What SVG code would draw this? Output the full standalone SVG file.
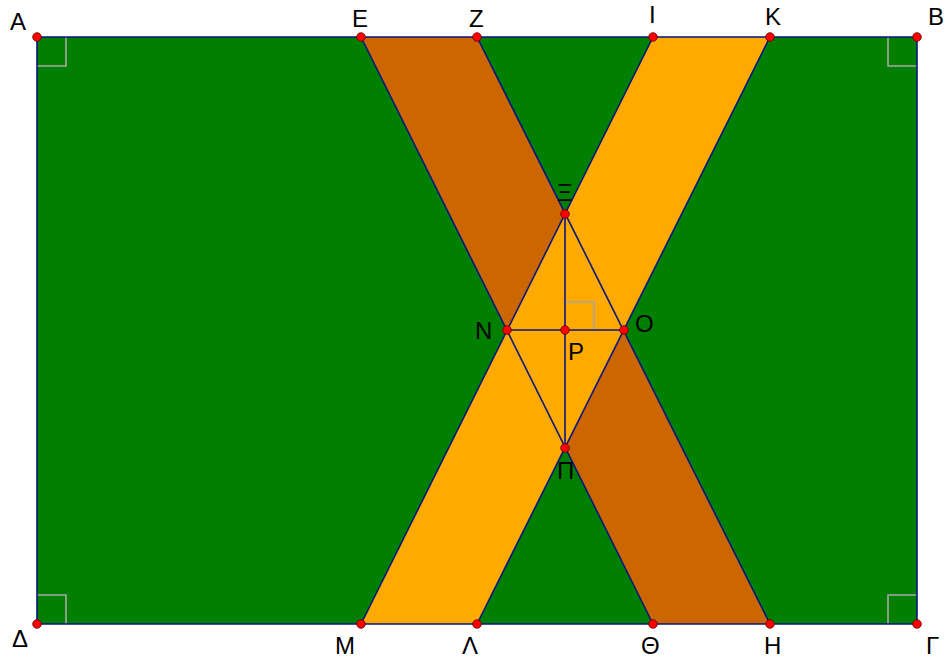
<svg xmlns="http://www.w3.org/2000/svg" width="947" height="658" viewBox="0 0 947 658">
<style>
.edge{stroke:#0a1580;stroke-width:1.6;fill:none;stroke-linejoin:round}
.ra{stroke:#a8a8a8;stroke-width:1.6;fill:none}
.pt{fill:#ff0000;stroke:#600000;stroke-width:0.8}
.lb{font-family:"Liberation Sans",Arial,sans-serif;font-size:24px;fill:#000}
</style>
<rect width="947" height="658" fill="#ffffff"/>
<g id="rect-ABGD">
<polygon points="37,37 917,37 917,624 37,624" fill="#007f00"/>
</g>
<g id="band-brown">
<polygon points="361,37 477,37 770,624 653,624" fill="#cc6600"/>
</g>
<g id="band-yellow">
<polygon points="653,37 770,37 477,624 361,624" fill="#ffaa00"/>
</g>
<g id="right-angles">
<polyline class="ra" points="37,66 66,66 66,37"/>
<polyline class="ra" points="917,66 888,66 888,37"/>
<polyline class="ra" points="37,595 66,595 66,624"/>
<polyline class="ra" points="917,595 888,595 888,624"/>
<polyline class="ra" points="565,302 594,302 594,330"/>
</g>
<g id="connectors">
<polygon class="edge" points="37,37 917,37 917,624 37,624"/>
<line class="edge" x1="361" y1="37" x2="653" y2="624"/>
<line class="edge" x1="477" y1="37" x2="770" y2="624"/>
<line class="edge" x1="653" y1="37" x2="361" y2="624"/>
<line class="edge" x1="770" y1="37" x2="477" y2="624"/>
<line class="edge" x1="565" y1="214" x2="565" y2="447"/>
<line class="edge" x1="507" y1="330" x2="624" y2="330"/>
</g>
<g id="points">
<circle class="pt" cx="37" cy="37" r="4.3"/>
<circle class="pt" cx="917" cy="37" r="4.3"/>
<circle class="pt" cx="917" cy="624" r="4.3"/>
<circle class="pt" cx="37" cy="624" r="4.3"/>
<circle class="pt" cx="361" cy="37" r="4.3"/>
<circle class="pt" cx="477" cy="37" r="4.3"/>
<circle class="pt" cx="653" cy="37" r="4.3"/>
<circle class="pt" cx="770" cy="37" r="4.3"/>
<circle class="pt" cx="361" cy="624" r="4.3"/>
<circle class="pt" cx="477" cy="624" r="4.3"/>
<circle class="pt" cx="653" cy="624" r="4.3"/>
<circle class="pt" cx="770" cy="624" r="4.3"/>
<circle class="pt" cx="565" cy="214" r="4.3"/>
<circle class="pt" cx="507" cy="330" r="4.3"/>
<circle class="pt" cx="565" cy="330" r="4.3"/>
<circle class="pt" cx="624" cy="330" r="4.3"/>
<circle class="pt" cx="565" cy="448" r="4.3"/>
</g>
<g id="labels">
<text class="lb" x="10" y="30">Α</text>
<text class="lb" x="352" y="27">Ε</text>
<text class="lb" x="469" y="27">Ζ</text>
<text class="lb" x="649" y="23">Ι</text>
<text class="lb" x="765" y="25">Κ</text>
<text class="lb" x="928" y="25">Β</text>
<text class="lb" x="12" y="647">Δ</text>
<text class="lb" x="335" y="654">Μ</text>
<text class="lb" x="462" y="654">Λ</text>
<text class="lb" x="641" y="654">Θ</text>
<text class="lb" x="764" y="654">Η</text>
<text class="lb" x="926" y="654">Γ</text>
<text class="lb" x="557" y="201">Ξ</text>
<text class="lb" x="475" y="339">Ν</text>
<text class="lb" x="635" y="332">Ο</text>
<text class="lb" x="568" y="360">Ρ</text>
<text class="lb" x="557" y="479">Π</text>
</g>
</svg>
